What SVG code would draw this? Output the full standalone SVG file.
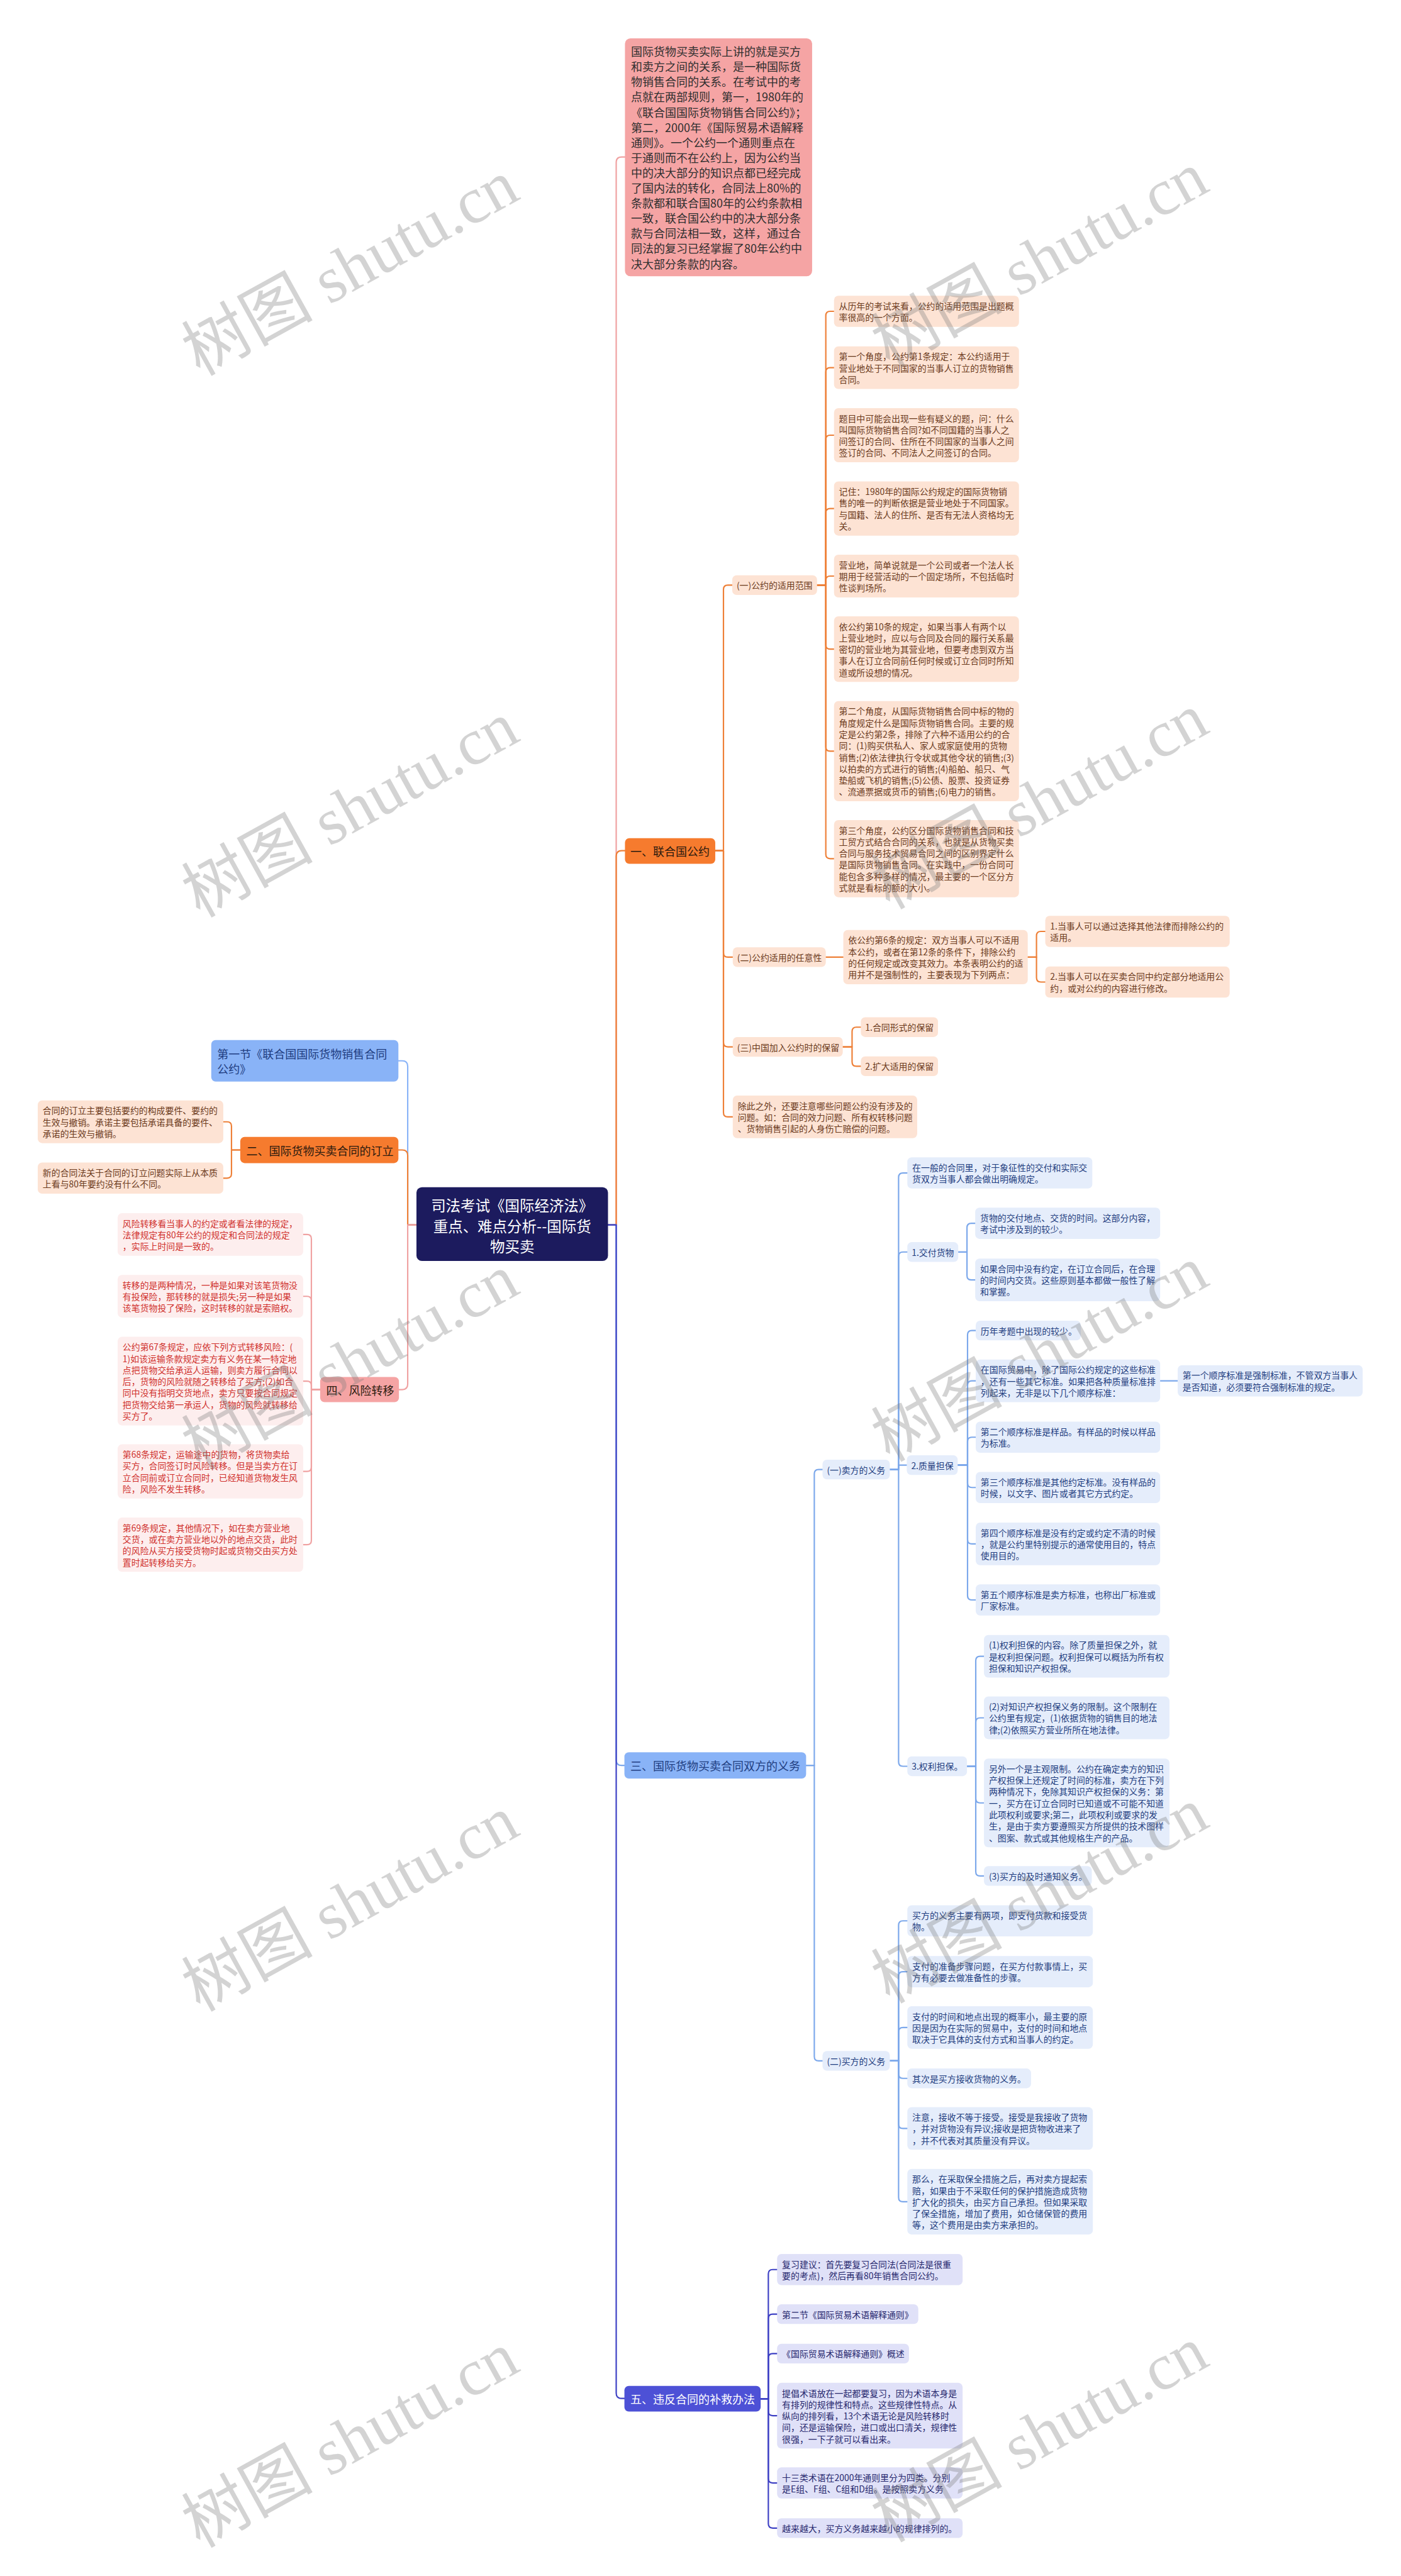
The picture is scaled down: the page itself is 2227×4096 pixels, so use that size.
<svg xmlns="http://www.w3.org/2000/svg" width="2227" height="4096" viewBox="0 0 2227 4096">
<style>
.f{font-family:"Noto Sans CJK SC","Noto Sans",sans-serif;dominant-baseline:central}
.s16{font-size:16px}
.s21{font-size:20.7px}
.s27{font-size:27px}
.co{fill:#6b3a1c}
.cr{fill:#d0312d}
.cb{fill:#1f3d80}
.ci{fill:#27286e}
.cw{fill:#ffffff}
.cd{fill:#2b1a0e}
.ct{fill:#2f2f2f}
.bo{fill:#fde3d4}
.bO{fill:#f67b2e}
.bp{fill:#f5a4a4}
.bpl{fill:#fdeeee}
.bb{fill:#89b3f7}
.bbl{fill:#e5edfb}
.bi{fill:#4d51d6}
.bil{fill:#e0e1f8}
.broot{fill:#1c1b5e}
.k{fill:none;stroke-width:2.5;stroke-linecap:round;stroke-linejoin:round}
.ko{stroke:#ee8038}
.kp{stroke:#f0a2a2}
.kb{stroke:#8ab4f8}
.kB{stroke:#7ca8eb}
.ki{stroke:#3d40c4}
.wm{font-family:"Liberation Serif","Noto Sans CJK SC",serif;font-size:120px;fill:#7a7a7a;fill-opacity:0.33;dominant-baseline:central}
</style>
<rect width="2227" height="4096" fill="#ffffff"/>
<g transform="scale(0.8699)">
<g id="connectors">
<path class="k kp" d="M1111,2239 H1126 V297 Q1126,287 1136,287 H1142"/>
<path class="k ko" d="M1111,2239 H1126 V1565 Q1126,1555 1136,1555 H1142"/>
<path class="k kB" d="M1111,2239 H1126 V3217 Q1126,3227 1136,3227 H1141"/>
<path class="k ki" d="M1111,2239 H1126 V4374 Q1126,4384 1136,4384 H1141"/>
<path class="k kb" d="M761,2239 H745 V1949 Q745,1939 735,1939 H728"/>
<path class="k ko" d="M761,2239 H745 V2112 Q745,2102 735,2102 H728"/>
<path class="k kp" d="M761,2239 H745 V2530 Q745,2540 735,2540 H729"/>
<path class="k ko" d="M439,2102 H423 V2058.5 Q423,2050.5 415,2050.5 H408"/>
<path class="k ko" d="M439,2102 H423 V2145.5 Q423,2153.5 415,2153.5 H408"/>
<path class="k kp" d="M585,2540 H569 V2264.5 Q569,2256.5 561,2256.5 H554"/>
<path class="k kp" d="M585,2540 H569 V2377.5 Q569,2369.5 561,2369.5 H554"/>
<path class="k kp" d="M585,2540 H569 V2532.5 Q569,2524.5 561,2524.5 H554"/>
<path class="k kp" d="M585,2540 H569 V2681.5 Q569,2689.5 561,2689.5 H554"/>
<path class="k kp" d="M585,2540 H569 V2815.5 Q569,2823.5 561,2823.5 H554"/>
<path class="k ko" d="M1307,1555 H1322 V1077.5 Q1322,1069.5 1330,1069.5 H1338"/>
<path class="k ko" d="M1307,1555 H1322 V1741.5 Q1322,1749.5 1330,1749.5 H1339"/>
<path class="k ko" d="M1307,1555 H1322 V1905.5 Q1322,1913.5 1330,1913.5 H1339"/>
<path class="k ko" d="M1307,1555 H1322 V2033.5 Q1322,2041.5 1330,2041.5 H1339"/>
<path class="k ko" d="M1493,1069.5 H1509 V577 Q1509,569 1517,569 H1524"/>
<path class="k ko" d="M1493,1069.5 H1509 V680 Q1509,672 1517,672 H1524"/>
<path class="k ko" d="M1493,1069.5 H1509 V803.5 Q1509,795.5 1517,795.5 H1524"/>
<path class="k ko" d="M1493,1069.5 H1509 V937.5 Q1509,929.5 1517,929.5 H1524"/>
<path class="k ko" d="M1493,1069.5 H1509 V1061 Q1509,1053 1517,1053 H1524"/>
<path class="k ko" d="M1493,1069.5 H1509 V1178.5 Q1509,1186.5 1517,1186.5 H1524"/>
<path class="k ko" d="M1493,1069.5 H1509 V1365 Q1509,1373 1517,1373 H1524"/>
<path class="k ko" d="M1493,1069.5 H1509 V1561.5 Q1509,1569.5 1517,1569.5 H1524"/>
<path class="k ko" d="M1509,1749.5 H1541"/>
<path class="k ko" d="M1878,1749.5 H1894 V1710.5 Q1894,1702.5 1902,1702.5 H1910"/>
<path class="k ko" d="M1878,1749.5 H1894 V1787 Q1894,1795 1902,1795 H1910"/>
<path class="k ko" d="M1540,1913.5 H1557 V1885.5 Q1557,1877.5 1565,1877.5 H1573"/>
<path class="k ko" d="M1540,1913.5 H1557 V1941 Q1557,1949 1565,1949 H1573"/>
<path class="k kB" d="M1473,3227 H1488 V2694 Q1488,2686 1496,2686 H1503"/>
<path class="k kB" d="M1473,3227 H1488 V3759 Q1488,3767 1496,3767 H1503"/>
<path class="k kB" d="M1626,2686 H1642 V2152 Q1642,2144 1650,2144 H1658"/>
<path class="k kB" d="M1626,2686 H1642 V2296.5 Q1642,2288.5 1650,2288.5 H1658"/>
<path class="k kB" d="M1626,2686 H1642 V2678 H1657"/>
<path class="k kB" d="M1626,2686 H1642 V3220.5 Q1642,3228.5 1650,3228.5 H1658"/>
<path class="k kB" d="M1751,2288.5 H1767 V2244 Q1767,2236 1775,2236 H1782"/>
<path class="k kB" d="M1751,2288.5 H1767 V2331.5 Q1767,2339.5 1775,2339.5 H1782"/>
<path class="k kB" d="M1750,2678 H1768 V2440 Q1768,2432 1776,2432 H1783"/>
<path class="k kB" d="M1750,2678 H1768 V2532 Q1768,2524 1776,2524 H1783"/>
<path class="k kB" d="M1750,2678 H1768 V2635 Q1768,2627 1776,2627 H1783"/>
<path class="k kB" d="M1750,2678 H1768 V2711 Q1768,2719 1776,2719 H1783"/>
<path class="k kB" d="M1750,2678 H1768 V2814 Q1768,2822 1776,2822 H1783"/>
<path class="k kB" d="M1750,2678 H1768 V2916.5 Q1768,2924.5 1776,2924.5 H1783"/>
<path class="k kB" d="M2120,2524 H2152"/>
<path class="k kB" d="M1767,3228.5 H1783 V3035.5 Q1783,3027.5 1791,3027.5 H1798"/>
<path class="k kB" d="M1767,3228.5 H1783 V3148 Q1783,3140 1791,3140 H1798"/>
<path class="k kB" d="M1767,3228.5 H1783 V3287.5 Q1783,3295.5 1791,3295.5 H1798"/>
<path class="k kB" d="M1767,3228.5 H1783 V3421 Q1783,3429 1791,3429 H1798"/>
<path class="k kB" d="M1626,3767 H1642 V3519 Q1642,3511 1650,3511 H1658"/>
<path class="k kB" d="M1626,3767 H1642 V3612 Q1642,3604 1650,3604 H1658"/>
<path class="k kB" d="M1626,3767 H1642 V3714 Q1642,3706 1650,3706 H1658"/>
<path class="k kB" d="M1626,3767 H1642 V3791 Q1642,3799 1650,3799 H1658"/>
<path class="k kB" d="M1626,3767 H1642 V3882.5 Q1642,3890.5 1650,3890.5 H1658"/>
<path class="k kB" d="M1626,3767 H1642 V4016.5 Q1642,4024.5 1650,4024.5 H1658"/>
<path class="k ki" d="M1390,4384.5 H1404 V4156.5 Q1404,4148.5 1412,4148.5 H1420"/>
<path class="k ki" d="M1390,4384.5 H1404 V4238 Q1404,4230 1412,4230 H1420"/>
<path class="k ki" d="M1390,4384.5 H1404 V4310 Q1404,4302 1412,4302 H1420"/>
<path class="k ki" d="M1390,4384.5 H1404 V4407.5 Q1404,4415.5 1412,4415.5 H1420"/>
<path class="k ki" d="M1390,4384.5 H1404 V4530.5 Q1404,4538.5 1412,4538.5 H1420"/>
<path class="k ki" d="M1390,4384.5 H1404 V4613 Q1404,4621 1412,4621 H1420"/>
</g>

<g id="root"><rect class="broot" x="761" y="2170" width="350" height="135" rx="10"/>
<text class="f s27 cw" text-anchor="middle"><tspan x="936" y="2202">司法考试《国际经济法》</tspan><tspan x="936" y="2240">重点、难点分析--国际货</tspan><tspan x="936" y="2277">物买卖</tspan></text></g>

<g id="n-intro"><rect class="bp" x="1142" y="70" width="342" height="435" rx="10" fill="#f7a8a8"/>
<text class="f s21 ct"><tspan x="1153" y="93.3">国际货物买卖实际上讲的就是买方</tspan><tspan x="1153" y="121">和卖方之间的关系，是一种国际货</tspan><tspan x="1153" y="148.7">物销售合同的关系。在考试中的考</tspan><tspan x="1153" y="176.4">点就在两部规则，第一，1980年的</tspan><tspan x="1153" y="204.1">《联合国国际货物销售合同公约》；</tspan><tspan x="1153" y="231.8">第二，2000年《国际贸易术语解释</tspan><tspan x="1153" y="259.5">通则》。一个公约一个通则重点在</tspan><tspan x="1153" y="287.2">于通则而不在公约上，因为公约当</tspan><tspan x="1153" y="314.9">中的决大部分的知识点都已经完成</tspan><tspan x="1153" y="342.6">了国内法的转化，合同法上80%的</tspan><tspan x="1153" y="370.3">条款都和联合国80年的公约条款相</tspan><tspan x="1153" y="398">一致，联合国公约中的决大部分条</tspan><tspan x="1153" y="425.7">款与合同法相一致，这样，通过合</tspan><tspan x="1153" y="453.4">同法的复习已经掌握了80年公约中</tspan><tspan x="1153" y="481.1">决大部分条款的内容。</tspan></text></g>

<g id="n-1"><rect class="bO" x="1142" y="1532" width="165" height="47" rx="8"/>
<text class="f s21 cd" x="1152" y="1555.5">一、联合国公约</text></g>

<g id="n-1-1"><rect class="bo" x="1338" y="1051.5" width="155" height="36" rx="8"/>
<text class="f s16 co" x="1346" y="1069.5">(一)公约的适用范围</text></g>

<g id="n-a1"><rect class="bo" x="1524" y="540.5" width="338" height="57" rx="8"/>
<text class="f s16 co"><tspan x="1533" y="558.5">从历年的考试来看，公约的适用范围是出题概</tspan><tspan x="1533" y="579.5">率很高的一个方面。</tspan></text></g>

<g id="n-a2"><rect class="bo" x="1524" y="633" width="338" height="78" rx="8"/>
<text class="f s16 co"><tspan x="1533" y="651">第一个角度，公约第1条规定：本公约适用于</tspan><tspan x="1533" y="672">营业地处于不同国家的当事人订立的货物销售</tspan><tspan x="1533" y="693">合同。</tspan></text></g>

<g id="n-a3"><rect class="bo" x="1524" y="746" width="338" height="99" rx="8"/>
<text class="f s16 co"><tspan x="1533" y="764">题目中可能会出现一些有疑义的题，问：什么</tspan><tspan x="1533" y="785">叫国际货物销售合同?如不同国籍的当事人之</tspan><tspan x="1533" y="806">间签订的合同、住所在不同国家的当事人之间</tspan><tspan x="1533" y="827">签订的合同、不同法人之间签订的合同。</tspan></text></g>

<g id="n-a4"><rect class="bo" x="1524" y="880" width="338" height="99" rx="8"/>
<text class="f s16 co"><tspan x="1533" y="898">记住：1980年的国际公约规定的国际货物销</tspan><tspan x="1533" y="919">售的唯一的判断依据是营业地处于不同国家。</tspan><tspan x="1533" y="940">与国籍、法人的住所、是否有无法人资格均无</tspan><tspan x="1533" y="961">关。</tspan></text></g>

<g id="n-a5"><rect class="bo" x="1524" y="1014" width="338" height="78" rx="8"/>
<text class="f s16 co"><tspan x="1533" y="1032">营业地，简单说就是一个公司或者一个法人长</tspan><tspan x="1533" y="1053">期用于经营活动的一个固定场所，不包括临时</tspan><tspan x="1533" y="1074">性谈判场所。</tspan></text></g>

<g id="n-a6"><rect class="bo" x="1524" y="1126.5" width="338" height="120" rx="8"/>
<text class="f s16 co"><tspan x="1533" y="1144.5">依公约第10条的规定，如果当事人有两个以</tspan><tspan x="1533" y="1165.5">上营业地时，应以与合同及合同的履行关系最</tspan><tspan x="1533" y="1186.5">密切的营业地为其营业地，但要考虑到双方当</tspan><tspan x="1533" y="1207.5">事人在订立合同前任何时候或订立合同时所知</tspan><tspan x="1533" y="1228.5">道或所设想的情况。</tspan></text></g>

<g id="n-a7"><rect class="bo" x="1524" y="1281.5" width="338" height="183" rx="8"/>
<text class="f s16 co"><tspan x="1533" y="1299.5">第二个角度，从国际货物销售合同中标的物的</tspan><tspan x="1533" y="1320.5">角度规定什么是国际货物销售合同。主要的规</tspan><tspan x="1533" y="1341.5">定是公约第2条，排除了六种不适用公约的合</tspan><tspan x="1533" y="1362.5">同：(1)购买供私人、家人或家庭使用的货物</tspan><tspan x="1533" y="1383.5">销售;(2)依法律执行令状或其他令状的销售;(3)</tspan><tspan x="1533" y="1404.5">以拍卖的方式进行的销售;(4)船舶、船只、气</tspan><tspan x="1533" y="1425.5">垫船或飞机的销售;(5)公债、股票、投资证券</tspan><tspan x="1533" y="1446.5">、流通票据或货币的销售;(6)电力的销售。</tspan></text></g>

<g id="n-a8"><rect class="bo" x="1524" y="1499" width="338" height="141" rx="8"/>
<text class="f s16 co"><tspan x="1533" y="1517">第三个角度，公约区分国际货物销售合同和技</tspan><tspan x="1533" y="1538">工贸方式结合合同的关系，也就是从货物买卖</tspan><tspan x="1533" y="1559">合同与服务技术贸易合同之间的区别界定什么</tspan><tspan x="1533" y="1580">是国际货物销售合同。在实践中，一份合同可</tspan><tspan x="1533" y="1601">能包含多种多样的情况，最主要的一个区分方</tspan><tspan x="1533" y="1622">式就是看标的额的大小。</tspan></text></g>

<g id="n-1-2"><rect class="bo" x="1339" y="1731.5" width="170" height="36" rx="8"/>
<text class="f s16 co" x="1347" y="1749.5">(二)公约适用的任意性</text></g>

<g id="n-b0"><rect class="bo" x="1541" y="1700" width="337" height="99" rx="8"/>
<text class="f s16 co"><tspan x="1550" y="1718">依公约第6条的规定：双方当事人可以不适用</tspan><tspan x="1550" y="1739">本公约，或者在第12条的条件下，排除公约</tspan><tspan x="1550" y="1760">的任何规定或改变其效力。本条表明公约的适</tspan><tspan x="1550" y="1781">用并不是强制性的，主要表现为下列两点：</tspan></text></g>

<g id="n-b1"><rect class="bo" x="1910" y="1674" width="337" height="57" rx="8"/>
<text class="f s16 co"><tspan x="1919" y="1692">1.当事人可以通过选择其他法律而排除公约的</tspan><tspan x="1919" y="1713">适用。</tspan></text></g>

<g id="n-b2"><rect class="bo" x="1910" y="1766.5" width="337" height="57" rx="8"/>
<text class="f s16 co"><tspan x="1919" y="1784.5">2.当事人可以在买卖合同中约定部分地适用公</tspan><tspan x="1919" y="1805.5">约，或对公约的内容进行修改。</tspan></text></g>

<g id="n-1-3"><rect class="bo" x="1339" y="1895.5" width="201" height="36" rx="8"/>
<text class="f s16 co" x="1347" y="1913.5">(三)中国加入公约时的保留</text></g>

<g id="n-c1"><rect class="bo" x="1573" y="1859.5" width="141" height="36" rx="8"/>
<text class="f s16 co" x="1581" y="1877.5">1.合同形式的保留</text></g>

<g id="n-c2"><rect class="bo" x="1573" y="1931" width="141" height="36" rx="8"/>
<text class="f s16 co" x="1581" y="1949">2.扩大适用的保留</text></g>

<g id="n-1-4"><rect class="bo" x="1339" y="2002.5" width="337" height="78" rx="8"/>
<text class="f s16 co"><tspan x="1348" y="2020.5">除此之外，还要注意哪些问题公约没有涉及的</tspan><tspan x="1348" y="2041.5">问题。如：合同的效力问题、所有权转移问题</tspan><tspan x="1348" y="2062.5">、货物销售引起的人身伤亡赔偿的问题。</tspan></text></g>

<g id="n-sec1"><rect class="bb" x="386" y="1901" width="342" height="76" rx="8"/>
<text class="f s21 cb"><tspan x="397" y="1926">第一节《联合国国际货物销售合同</tspan><tspan x="397" y="1953">公约》</tspan></text></g>

<g id="n-2"><rect class="bO" x="439" y="2078" width="289" height="48" rx="8"/>
<text class="f s21 cd" x="450" y="2102">二、国际货物买卖合同的订立</text></g>

<g id="n-d1"><rect class="bo" x="69" y="2011.5" width="339" height="78" rx="8"/>
<text class="f s16 co"><tspan x="78" y="2029.5">合同的订立主要包括要约的构成要件、要约的</tspan><tspan x="78" y="2050.5">生效与撤销。承诺主要包括承诺具备的要件、</tspan><tspan x="78" y="2071.5">承诺的生效与撤销。</tspan></text></g>

<g id="n-d2"><rect class="bo" x="69" y="2125" width="339" height="57" rx="8"/>
<text class="f s16 co"><tspan x="78" y="2143">新的合同法关于合同的订立问题实际上从本质</tspan><tspan x="78" y="2164">上看与80年要约没有什么不同。</tspan></text></g>

<g id="n-4"><rect class="bp" x="585" y="2517" width="144" height="46" rx="8"/>
<text class="f s21 cd" x="596" y="2540">四、风险转移</text></g>

<g id="n-r1"><rect class="bpl" x="215" y="2217.5" width="339" height="78" rx="8"/>
<text class="f s16 cr"><tspan x="224" y="2235.5">风险转移看当事人的约定或者看法律的规定，</tspan><tspan x="224" y="2256.5">法律规定有80年公约的规定和合同法的规定</tspan><tspan x="224" y="2277.5">，实际上时间是一致的。</tspan></text></g>

<g id="n-r2"><rect class="bpl" x="215" y="2330.5" width="339" height="78" rx="8"/>
<text class="f s16 cr"><tspan x="224" y="2348.5">转移的是两种情况，一种是如果对该笔货物没</tspan><tspan x="224" y="2369.5">有投保险，那转移的就是损失;另一种是如果</tspan><tspan x="224" y="2390.5">该笔货物投了保险，这时转移的就是索赔权。</tspan></text></g>

<g id="n-r3"><rect class="bpl" x="215" y="2443.5" width="339" height="162" rx="8"/>
<text class="f s16 cr"><tspan x="224" y="2461.5">公约第67条规定，应依下列方式转移风险：(</tspan><tspan x="224" y="2482.5">1)如该运输条款规定卖方有义务在某一特定地</tspan><tspan x="224" y="2503.5">点把货物交给承运人运输，则卖方履行合同以</tspan><tspan x="224" y="2524.5">后，货物的风险就随之转移给了买方;(2)如合</tspan><tspan x="224" y="2545.5">同中没有指明交货地点，卖方只要按合同规定</tspan><tspan x="224" y="2566.5">把货物交给第一承运人，货物的风险就转移给</tspan><tspan x="224" y="2587.5">买方了。</tspan></text></g>

<g id="n-r4"><rect class="bpl" x="215" y="2640" width="339" height="99" rx="8"/>
<text class="f s16 cr"><tspan x="224" y="2658">第68条规定，运输途中的货物，将货物卖给</tspan><tspan x="224" y="2679">买方，合同签订时风险转移。但是当卖方在订</tspan><tspan x="224" y="2700">立合同前或订立合同时，已经知道货物发生风</tspan><tspan x="224" y="2721">险，风险不发生转移。</tspan></text></g>

<g id="n-r5"><rect class="bpl" x="215" y="2774" width="339" height="99" rx="8"/>
<text class="f s16 cr"><tspan x="224" y="2792">第69条规定，其他情况下，如在卖方营业地</tspan><tspan x="224" y="2813">交货，或在卖方营业地以外的地点交货，此时</tspan><tspan x="224" y="2834">的风险从买方接受货物时起或货物交由买方处</tspan><tspan x="224" y="2855">置时起转移给买方。</tspan></text></g>

<g id="n-3"><rect class="bb" x="1141" y="3203" width="332" height="48" rx="8"/>
<text class="f s21 cb" x="1152" y="3227">三、国际货物买卖合同双方的义务</text></g>

<g id="n-3-1"><rect class="bbl" x="1503" y="2668" width="123" height="36" rx="8"/>
<text class="f s16 cb" x="1511" y="2686">(一)卖方的义务</text></g>

<g id="n-e0"><rect class="bbl" x="1658" y="2115.5" width="338" height="57" rx="8"/>
<text class="f s16 cb"><tspan x="1667" y="2133.5">在一般的合同里，对于象征性的交付和实际交</tspan><tspan x="1667" y="2154.5">货双方当事人都会做出明确规定。</tspan></text></g>

<g id="n-e1"><rect class="bbl" x="1658" y="2270.5" width="93" height="36" rx="8"/>
<text class="f s16 cb" x="1666" y="2288.5">1.交付货物</text></g>

<g id="n-f1"><rect class="bbl" x="1782" y="2207.5" width="338" height="57" rx="8"/>
<text class="f s16 cb"><tspan x="1791" y="2225.5">货物的交付地点、交货的时间。这部分内容，</tspan><tspan x="1791" y="2246.5">考试中涉及到的较少。</tspan></text></g>

<g id="n-f2"><rect class="bbl" x="1782" y="2300.5" width="338" height="78" rx="8"/>
<text class="f s16 cb"><tspan x="1791" y="2318.5">如果合同中没有约定，在订立合同后，在合理</tspan><tspan x="1791" y="2339.5">的时间内交货。这些原则基本都做一般性了解</tspan><tspan x="1791" y="2360.5">和掌握。</tspan></text></g>

<g id="n-e2"><rect class="bbl" x="1657" y="2660" width="93" height="36" rx="8"/>
<text class="f s16 cb" x="1665" y="2678">2.质量担保</text></g>

<g id="n-g1"><rect class="bbl" x="1783" y="2414" width="192" height="36" rx="8"/>
<text class="f s16 cb" x="1792" y="2432">历年考题中出现的较少。</text></g>

<g id="n-g2"><rect class="bbl" x="1783" y="2485" width="337" height="78" rx="8"/>
<text class="f s16 cb"><tspan x="1792" y="2503">在国际贸易中，除了国际公约规定的这些标准</tspan><tspan x="1792" y="2524">，还有一些其它标准。如果把各种质量标准排</tspan><tspan x="1792" y="2545">列起来，无非是以下几个顺序标准：</tspan></text></g>

<g id="n-h1"><rect class="bbl" x="2152" y="2495.5" width="338" height="57" rx="8"/>
<text class="f s16 cb"><tspan x="2161" y="2513.5">第一个顺序标准是强制标准，不管双方当事人</tspan><tspan x="2161" y="2534.5">是否知道，必须要符合强制标准的规定。</tspan></text></g>

<g id="n-g3"><rect class="bbl" x="1783" y="2598.5" width="337" height="57" rx="8"/>
<text class="f s16 cb"><tspan x="1792" y="2616.5">第二个顺序标准是样品。有样品的时候以样品</tspan><tspan x="1792" y="2637.5">为标准。</tspan></text></g>

<g id="n-g4"><rect class="bbl" x="1783" y="2690.5" width="337" height="57" rx="8"/>
<text class="f s16 cb"><tspan x="1792" y="2708.5">第三个顺序标准是其他约定标准。没有样品的</tspan><tspan x="1792" y="2729.5">时候，以文字、图片或者其它方式约定。</tspan></text></g>

<g id="n-g5"><rect class="bbl" x="1783" y="2783" width="337" height="78" rx="8"/>
<text class="f s16 cb"><tspan x="1792" y="2801">第四个顺序标准是没有约定或约定不清的时候</tspan><tspan x="1792" y="2822">，就是公约里特别提示的通常使用目的，特点</tspan><tspan x="1792" y="2843">使用目的。</tspan></text></g>

<g id="n-g6"><rect class="bbl" x="1783" y="2896" width="337" height="57" rx="8"/>
<text class="f s16 cb"><tspan x="1792" y="2914">第五个顺序标准是卖方标准，也称出厂标准或</tspan><tspan x="1792" y="2935">厂家标准。</tspan></text></g>

<g id="n-e3"><rect class="bbl" x="1658" y="3210.5" width="109" height="36" rx="8"/>
<text class="f s16 cb" x="1666" y="3228.5">3.权利担保。</text></g>

<g id="n-i1"><rect class="bbl" x="1798" y="2988.5" width="339" height="78" rx="8"/>
<text class="f s16 cb"><tspan x="1807" y="3006.5">(1)权利担保的内容。除了质量担保之外，就</tspan><tspan x="1807" y="3027.5">是权利担保问题。权利担保可以概括为所有权</tspan><tspan x="1807" y="3048.5">担保和知识产权担保。</tspan></text></g>

<g id="n-i2"><rect class="bbl" x="1798" y="3101" width="339" height="78" rx="8"/>
<text class="f s16 cb"><tspan x="1807" y="3119">(2)对知识产权担保义务的限制。这个限制在</tspan><tspan x="1807" y="3140">公约里有规定，(1)依据货物的销售目的地法</tspan><tspan x="1807" y="3161">律;(2)依照买方营业所所在地法律。</tspan></text></g>

<g id="n-i3"><rect class="bbl" x="1798" y="3214.5" width="339" height="162" rx="8"/>
<text class="f s16 cb"><tspan x="1807" y="3232.5">另外一个是主观限制。公约在确定卖方的知识</tspan><tspan x="1807" y="3253.5">产权担保上还规定了时间的标准，卖方在下列</tspan><tspan x="1807" y="3274.5">两种情况下，免除其知识产权担保的义务：第</tspan><tspan x="1807" y="3295.5">一，买方在订立合同时已知道或不可能不知道</tspan><tspan x="1807" y="3316.5">此项权利或要求;第二，此项权利或要求的发</tspan><tspan x="1807" y="3337.5">生，是由于卖方要遵照买方所提供的技术图样</tspan><tspan x="1807" y="3358.5">、图案、款式或其他规格生产的产品。</tspan></text></g>

<g id="n-i4"><rect class="bbl" x="1798" y="3411" width="197" height="36" rx="8"/>
<text class="f s16 cb" x="1807" y="3429">(3)买方的及时通知义务。</text></g>

<g id="n-3-2"><rect class="bbl" x="1503" y="3749" width="123" height="36" rx="8"/>
<text class="f s16 cb" x="1511" y="3767">(二)买方的义务</text></g>

<g id="n-j1"><rect class="bbl" x="1658" y="3482.5" width="339" height="57" rx="8"/>
<text class="f s16 cb"><tspan x="1667" y="3500.5">买方的义务主要有两项，即支付货款和接受货</tspan><tspan x="1667" y="3521.5">物。</tspan></text></g>

<g id="n-j2"><rect class="bbl" x="1658" y="3575.5" width="339" height="57" rx="8"/>
<text class="f s16 cb"><tspan x="1667" y="3593.5">支付的准备步骤问题，在买方付款事情上，买</tspan><tspan x="1667" y="3614.5">方有必要去做准备性的步骤。</tspan></text></g>

<g id="n-j3"><rect class="bbl" x="1658" y="3667" width="339" height="78" rx="8"/>
<text class="f s16 cb"><tspan x="1667" y="3685">支付的时间和地点出现的概率小，最主要的原</tspan><tspan x="1667" y="3706">因是因为在实际的贸易中，支付的时间和地点</tspan><tspan x="1667" y="3727">取决于它具体的支付方式和当事人的约定。</tspan></text></g>

<g id="n-j4"><rect class="bbl" x="1658" y="3781" width="226" height="36" rx="8"/>
<text class="f s16 cb" x="1667" y="3799">其次是买方接收货物的义务。</text></g>

<g id="n-j5"><rect class="bbl" x="1658" y="3851.5" width="339" height="78" rx="8"/>
<text class="f s16 cb"><tspan x="1667" y="3869.5">注意，接收不等于接受。接受是我接收了货物</tspan><tspan x="1667" y="3890.5">，并对货物没有异议;接收是把货物收进来了</tspan><tspan x="1667" y="3911.5">，并不代表对其质量没有异议。</tspan></text></g>

<g id="n-j6"><rect class="bbl" x="1658" y="3964.5" width="339" height="120" rx="8"/>
<text class="f s16 cb"><tspan x="1667" y="3982.5">那么，在采取保全措施之后，再对卖方提起索</tspan><tspan x="1667" y="4003.5">赔，如果由于不采取任何的保护措施造成货物</tspan><tspan x="1667" y="4024.5">扩大化的损失，由买方自己承担。但如果采取</tspan><tspan x="1667" y="4045.5">了保全措施，增加了费用，如仓储保管的费用</tspan><tspan x="1667" y="4066.5">等，这个费用是由卖方来承担的。</tspan></text></g>

<g id="n-5"><rect class="bi" x="1141" y="4361" width="249" height="47" rx="8"/>
<text class="f s21 cw" x="1152" y="4384.5">五、违反合同的补救办法</text></g>

<g id="n-k1"><rect class="bil" x="1420" y="4120" width="339" height="57" rx="8"/>
<text class="f s16 ci"><tspan x="1429" y="4138">复习建议：首先要复习合同法(合同法是很重</tspan><tspan x="1429" y="4159">要的考点)，然后再看80年销售合同公约。</tspan></text></g>

<g id="n-k2"><rect class="bil" x="1420" y="4212" width="258" height="36" rx="8"/>
<text class="f s16 ci" x="1429" y="4230">第二节《国际贸易术语解释通则》</text></g>

<g id="n-k3"><rect class="bil" x="1420" y="4284" width="241" height="36" rx="8"/>
<text class="f s16 ci" x="1429" y="4302">《国际贸易术语解释通则》概述</text></g>

<g id="n-k4"><rect class="bil" x="1420" y="4355.5" width="339" height="120" rx="8"/>
<text class="f s16 ci"><tspan x="1429" y="4373.5">提倡术语放在一起都要复习，因为术语本身是</tspan><tspan x="1429" y="4394.5">有排列的规律性和特点。这些规律性特点。从</tspan><tspan x="1429" y="4415.5">纵向的排列看，13个术语无论是风险转移时</tspan><tspan x="1429" y="4436.5">间，还是运输保险，进口或出口清关，规律性</tspan><tspan x="1429" y="4457.5">很强，一下子就可以看出来。</tspan></text></g>

<g id="n-k5"><rect class="bil" x="1420" y="4510" width="339" height="57" rx="8"/>
<text class="f s16 ci"><tspan x="1429" y="4528">十三类术语在2000年通则里分为四类。分别</tspan><tspan x="1429" y="4549">是E组、F组、C组和D组。是按照卖方义务</tspan></text></g>

<g id="n-k6"><rect class="bil" x="1420" y="4603" width="339" height="36" rx="8"/>
<text class="f s16 ci" x="1429" y="4621">越来越大，买方义务越来越小的规律排列的。</text></g>

<g id="watermark" text-anchor="middle">
<text class="wm" transform="translate(640,490) rotate(-29)">树图 shutu.cn</text>
<text class="wm" transform="translate(1900,475) rotate(-29)">树图 shutu.cn</text>
<text class="wm" transform="translate(640,1480) rotate(-29)">树图 shutu.cn</text>
<text class="wm" transform="translate(1900,1465) rotate(-29)">树图 shutu.cn</text>
<text class="wm" transform="translate(640,2490) rotate(-29)">树图 shutu.cn</text>
<text class="wm" transform="translate(1900,2475) rotate(-29)">树图 shutu.cn</text>
<text class="wm" transform="translate(640,3480) rotate(-29)">树图 shutu.cn</text>
<text class="wm" transform="translate(1900,3465) rotate(-29)">树图 shutu.cn</text>
<text class="wm" transform="translate(640,4460) rotate(-29)">树图 shutu.cn</text>
<text class="wm" transform="translate(1900,4450) rotate(-29)">树图 shutu.cn</text>
</g>
</g>
</svg>
